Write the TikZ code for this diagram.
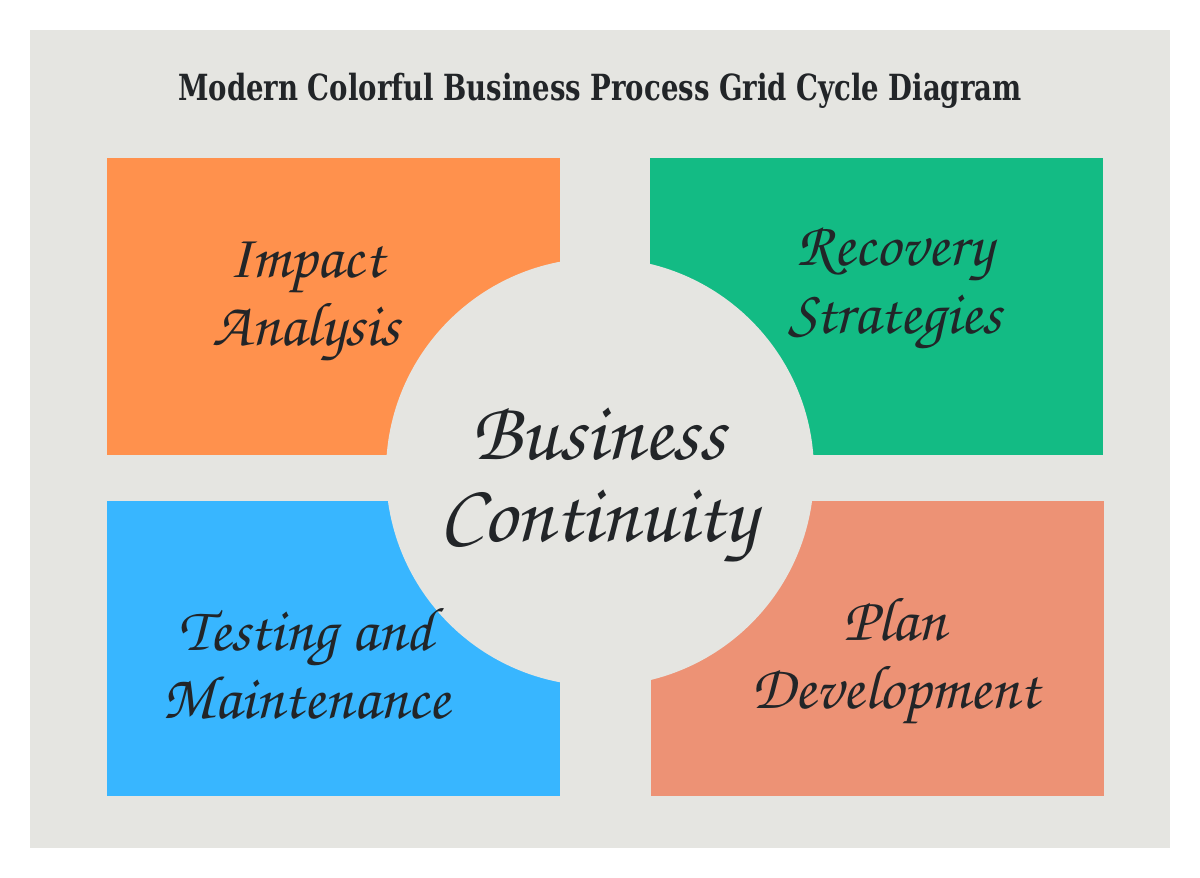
\documentclass[tikz,border=0pt]{standalone}
\usepackage{fontspec}
\setmainfont{DejaVu Serif}
\newfontfamily\scriptf{texgyrechorus-mediumitalic.otf}
\newfontfamily\titlef{DejaVu Serif Condensed Bold}
\definecolor{panelgray}{HTML}{E5E5E1}
\definecolor{orangec}{HTML}{FF914D}
\definecolor{greenc}{HTML}{13BB84}
\definecolor{bluec}{HTML}{38B6FF}
\definecolor{salmonc}{HTML}{ED9275}
\definecolor{inkc}{HTML}{222528}
\tikzset{
  lbl/.style={text=inkc, align=center, font=\scriptf\fontsize{62}{68}\selectfont, inner sep=0pt, anchor=base},
  biglbl/.style={lbl, font=\scriptf\fontsize{83}{82}\selectfont},
}
\begin{document}
\begin{tikzpicture}[x=1pt,y=-1pt]
\useasboundingbox (0,0) rectangle (1200,878);
\fill[white] (0,0) rectangle (1200,878);
\fill[panelgray] (30,30) rectangle (1170,848);
\fill[orangec] (107,158) rectangle (560,455);
\fill[greenc] (650,158) rectangle (1103,455);
\fill[bluec] (107,501) rectangle (560,796);
\fill[salmonc] (651,501) rectangle (1104,796);
\fill[panelgray] (600,472) circle[radius=214];
\node[text=inkc, anchor=base, inner sep=0pt, font=\titlef\fontsize{36}{40}\selectfont] (title) at (600,100) {\scalebox{0.85}[1]{Modern Colorful Business Process Grid Cycle Diagram}};
\node[lbl] (ia) at (306,345) {Impact\\Analysis};
\node[lbl] (rs) at (895,333) {Recovery\\Strategies};
\node[lbl] (tm) at (306,718) {Testing and\\Maintenance};
\node[lbl] (pd) at (895,708) {Plan\\Development};
\node[biglbl] (bc) at (598,541) {Business\\Continuity};
\end{tikzpicture}
\end{document}
